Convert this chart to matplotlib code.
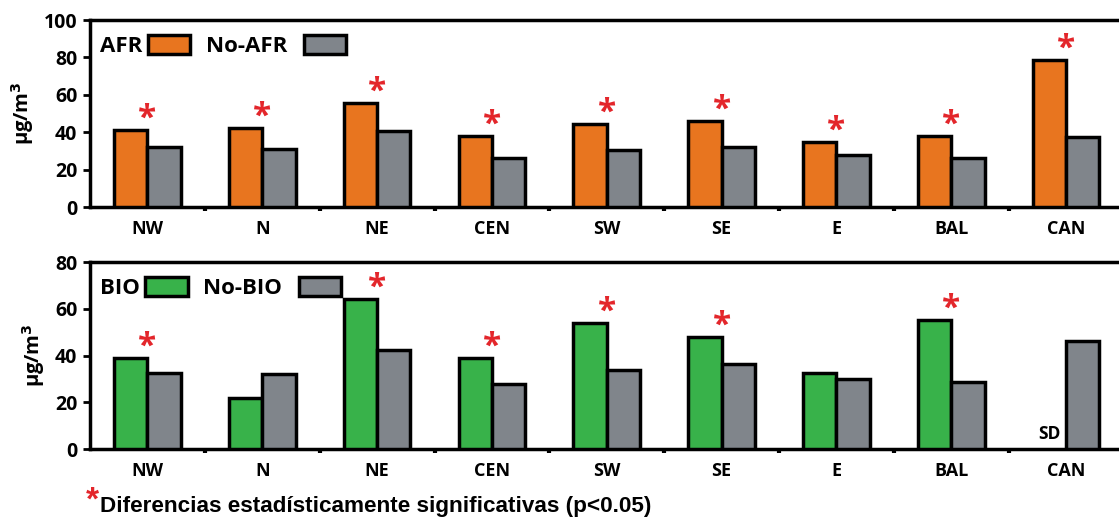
import numpy as np
import matplotlib
matplotlib.use("Agg")
from matplotlib import pyplot as plt
from matplotlib.patches import Patch

plt.rcParams['font.family'] = ['Open Sans', 'DejaVu Sans']
plt.rcParams['font.weight'] = 'bold'

# data
regions = ['NW', 'N', 'NE', 'CEN', 'SW', 'SE', 'E', 'BAL', 'CAN']
afr = [41, 42, 55.5, 38, 44.5, 46, 34.5, 38, 78.5]
no_afr = [32, 31, 40.5, 26, 30.5, 32, 28, 26, 37.5]
sig_afr = [True, True, True, True, True, True, True, True, True]
bio = [39, 22, 64, 39, 54, 48, 32.5, 55, np.nan]   # CAN: sin datos (SD)
no_bio = [32.5, 32, 42.5, 28, 34, 36.5, 30, 28.5, 46]
sig_bio = [True, False, True, True, True, True, False, True, False]

ORANGE = '#e8751f'
GREEN = '#38b24a'
GREY = '#80858b'
RED = '#e3262b'
BW = 0.29

fig = plt.figure(figsize=(11.19, 5.17), dpi=100)
ax1 = fig.add_axes([0.0804, 0.5996, 0.9196, 0.3617])
ax2 = fig.add_axes([0.0804, 0.1315, 0.9196, 0.3617])


def panel(ax, a, b, sig, color, names, ymax):
    x = np.arange(len(regions))
    ax.bar(x - BW / 2, a, BW, color=color, edgecolor='black', linewidth=2.5, zorder=3)
    ax.bar(x + BW / 2, b, BW, color=GREY, edgecolor='black', linewidth=2.5, zorder=3)
    for i, s in enumerate(sig):
        if s:
            top = np.nanmax([a[i], b[i]])
            ax.annotate('*', (x[i], top), xytext=(0, -4), textcoords='offset points',
                        ha='center', va='bottom', color=RED, fontsize=24,
                        fontweight='bold')
    ax.set_xlim(-0.5, 8.46)
    ax.set_ylim(0, ymax)
    ax.set_yticks(np.arange(0, ymax + 1, 20))
    ax.set_xticks(x)
    ax.set_xticklabels(regions)
    ax.set_xticks(x[:-1] + 0.5, minor=True)
    ax.tick_params(axis='x', which='major', length=0, pad=9, labelsize=13)
    ax.tick_params(axis='x', which='minor', length=3, width=3, direction='out')
    ax.tick_params(axis='y', length=5, width=2, labelsize=14, pad=4)
    for sp in ['left', 'bottom', 'top']:
        ax.spines[sp].set_linewidth(2.5)
    ax.spines['right'].set_visible(False)
    ax.set_ylabel('µg/m$^3$', fontsize=14.5, fontweight='bold', labelpad=6)
    handles = [Patch(facecolor=color, edgecolor='black', linewidth=2.5),
               Patch(facecolor=GREY, edgecolor='black', linewidth=2.5)]
    ax.legend(handles, [names[0], names[1] + '  '], loc='upper left',
              bbox_to_anchor=(0.0, 0.975), ncol=2, markerfirst=False,
              frameon=False, fontsize=16, handlelength=1.9, handleheight=0.95,
              handletextpad=0.25, columnspacing=0.7, borderaxespad=0.25,
              borderpad=0.2)
    return x


panel(ax1, afr, no_afr, sig_afr, ORANGE, ['AFR', 'No-AFR'], 100)
x = panel(ax2, bio, no_bio, sig_bio, GREEN, ['BIO', 'No-BIO'], 80)

# SD marker where BIO has no data
for i, v in enumerate(bio):
    if np.isnan(v):
        ax2.annotate('SD', (x[i] - BW / 2, 0), xytext=(0, 4), textcoords='offset points',
                     ha='center', va='bottom', fontsize=12.5, fontweight='bold')

fig.text(0.077, 0.0, '*', color=RED, fontsize=24, fontweight='bold', va='bottom',
         family=['Liberation Sans', 'DejaVu Sans'])
fig.text(0.0894, 0.0097, 'Diferencias estadísticamente significativas (p<0.05)',
         fontsize=16.2, fontweight='bold', va='baseline',
         family=['Liberation Sans', 'DejaVu Sans'])

fig.savefig('out.png', dpi=100)
